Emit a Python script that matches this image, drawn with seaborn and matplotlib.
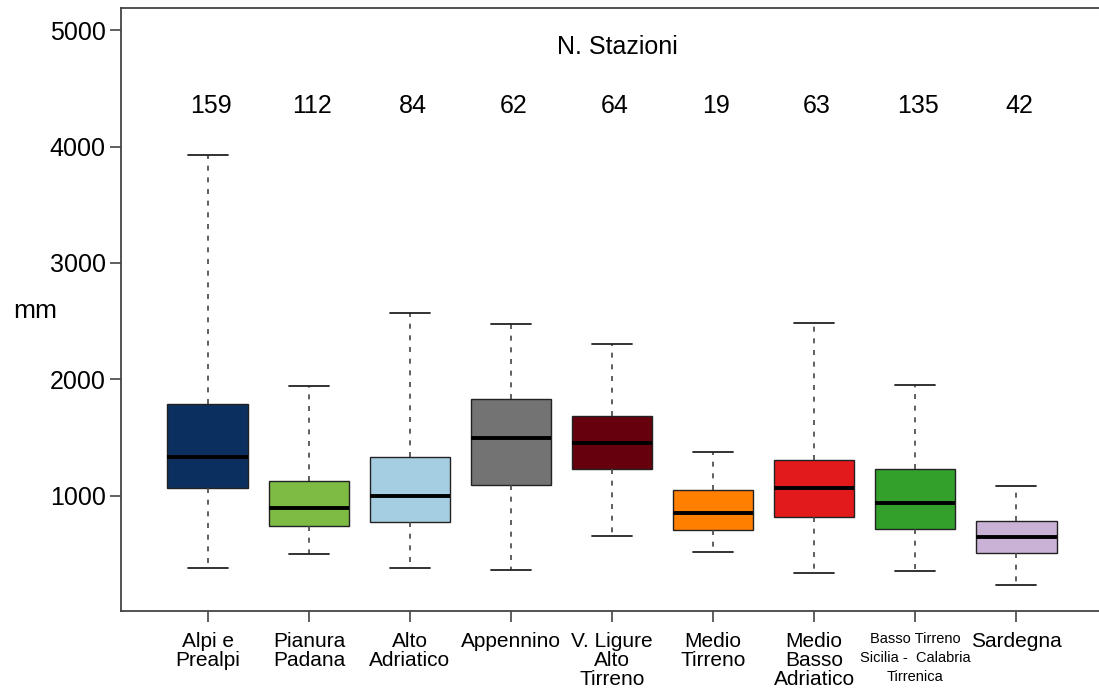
import matplotlib
matplotlib.use("Agg")
import matplotlib.pyplot as plt
import seaborn as sns
import pandas as pd

# regioni e numero di stazioni
regioni = ["Alpi e\nPrealpi", "Pianura\nPadana", "Alto\nAdriatico", "Appennino",
           "V. Ligure\nAlto\nTirreno", "Medio\nTirreno", "Medio\nBasso\nAdriatico",
           "Basso Tirreno\nSicilia -  Calabria\nTirrenica", "Sardegna"]
n_stazioni = [159, 112, 84, 62, 64, 19, 63, 135, 42]

# statistiche (mm)
p_min = [380, 497, 374, 357, 651, 518, 334, 355, 229]
p_q1 = [1066, 743, 769, 1094, 1225, 703, 814, 711, 509]
p_med = [1332, 897, 1000, 1491, 1452, 848, 1066, 937, 646]
p_q3 = [1786, 1126, 1334, 1834, 1686, 1049, 1306, 1229, 780]
p_max = [3928, 1945, 2566, 2476, 2305, 1371, 2480, 1949, 1086]

colori = ["#0b2f5e", "#7dbb42", "#a6cee3", "#737373", "#67000d",
          "#ff7f00", "#e31a1c", "#33a02c", "#cab2d6"]

# formato lungo: i cinque valori per ogni regione
righe = []
for i, r in enumerate(regioni):
    for v in (p_min[i], p_q1[i], p_med[i], p_q3[i], p_max[i]):
        righe.append({"regione": r, "mm": v})
df = pd.DataFrame(righe)

sns.set_style("ticks")
plt.rcParams["font.family"] = ["Liberation Sans", "DejaVu Sans"]
plt.rcParams["text.color"] = "black"

fig = plt.figure(figsize=(10.99, 6.99), dpi=100)
ax = fig.add_axes([121 / 1099, 88 / 699, 982 / 1099, 603 / 699])

sns.boxplot(data=df, x="regione", y="mm", hue="regione", palette=colori,
            order=regioni, hue_order=regioni, legend=False, saturation=1,
            whis=(0, 100), width=0.8, linecolor="black", linewidth=1,
            whiskerprops=dict(linestyle=(0, (3, 4)), color="#444444", linewidth=1.2),
            capprops=dict(color="#222222", linewidth=1.3),
            medianprops=dict(color="black", linewidth=2.8),
            boxprops=dict(edgecolor="#222222", linewidth=1),
            ax=ax)

ax.set_xlim(-0.86, 8.86)
ax.set_ylim(8, 5192)
ax.set_yticks([1000, 2000, 3000, 4000, 5000])
ax.set_xticks(range(len(regioni)))
ax.set_xticklabels(regioni, fontsize=15, linespacing=1.0)

# etichetta piu piccola per Basso Tirreno
lab = ax.get_xticklabels()[7]
lab.set_fontsize(10.5)
lab.set_linespacing(1.45)

ax.tick_params(axis="y", labelsize=18, length=8, width=1.2, color="#444444",
               labelcolor="black", pad=3)
ax.tick_params(axis="x", length=8, width=1.2, color="#444444",
               labelcolor="black", pad=7)
ax.set_xlabel("")
ax.set_ylabel("")

for s in ["left", "bottom", "top"]:
    ax.spines[s].set_visible(True)
    ax.spines[s].set_color("#444444")
    ax.spines[s].set_linewidth(1.3)
ax.spines["right"].set_visible(False)

# numero stazioni sopra i box
for i, n in enumerate(n_stazioni):
    ax.text(i + 0.03, 4349, str(n), ha="center", va="center", fontsize=18)
ax.text(4.05, 4857, "N. Stazioni", ha="center", va="center", fontsize=18)

fig.text(35 / 1099, 1 - 311 / 699, "mm", ha="center", va="center", fontsize=19)

fig.savefig("out.png", dpi=100)
